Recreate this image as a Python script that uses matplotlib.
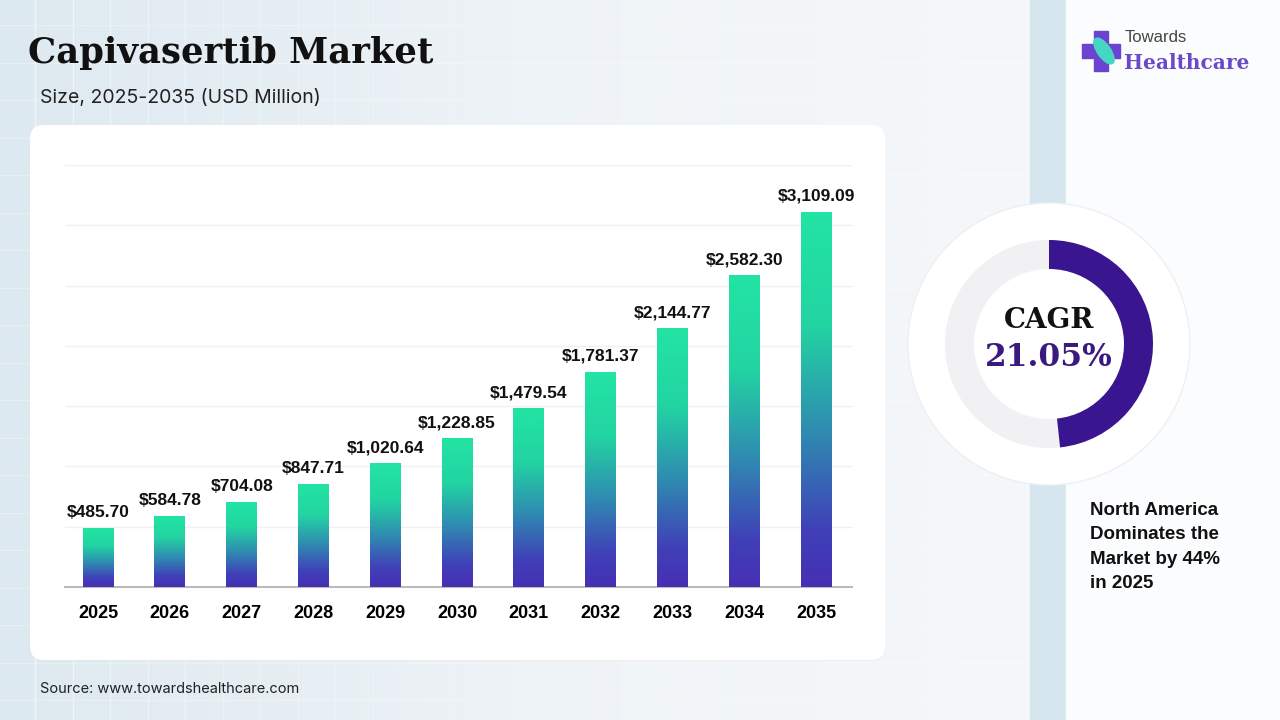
import numpy as np
import matplotlib
matplotlib.use("Agg")
import matplotlib.pyplot as plt
from matplotlib.colors import LinearSegmentedColormap
from matplotlib.patches import FancyBboxPatch, Rectangle, Circle, Wedge, Ellipse

# data
years = ["2025", "2026", "2027", "2028", "2029", "2030",
         "2031", "2032", "2033", "2034", "2035"]
values = [485.70, 584.78, 704.08, 847.71, 1020.64, 1228.85,
          1479.54, 1781.37, 2144.77, 2582.30, 3109.09]
cagr = 21.05
cagr_arc_share = 0.483   # part of the ring filled in the picture
title = "Capivasertib Market"
subtitle = "Size, 2025-2035 (USD Million)"
source = "Source: www.towardshealthcare.com"
note = "North America\nDominates the\nMarket by 44%\nin 2025"

W, H = 1280, 720
fig = plt.figure(figsize=(12.8, 7.2), dpi=100)

# background layer in pixel coords
bg = fig.add_axes([0, 0, 1, 1])
bg.set_xlim(0, W)
bg.set_ylim(H, 0)
bg.axis("off")

grad = np.linspace(0, 1, 256)[None, :]
bg_cmap = LinearSegmentedColormap.from_list("bg", ["#dde9f0", "#eef3f7", "#f5f8fa"])
bg.imshow(grad, extent=[0, 1030, H, 0], cmap=bg_cmap, aspect="auto", zorder=0)

# faint grid of the backdrop
for gx in np.arange(35, 1030, 37.5):
    a = max(0.0, 0.5 - gx / 1300)
    bg.plot([gx, gx], [0, H], color="white", lw=1, alpha=a, zorder=1)
for gy in np.arange(25, H, 37.5):
    bg.plot([0, 1030], [gy, gy], color="white", lw=1, alpha=0.3, zorder=1)

# strip and right panel
bg.add_patch(Rectangle((1030, 0), 36, H, color="#d6e6ee", zorder=2))
bg.add_patch(Rectangle((1066, 0), W - 1066, H, color="#fbfcfd", zorder=2))

# chart card
bg.add_patch(FancyBboxPatch((33, 129), 852, 532, boxstyle="round,pad=0,rounding_size=14",
                            fc="#e3e9ee", ec="none", alpha=0.6, zorder=3))
bg.add_patch(FancyBboxPatch((30, 125), 855, 535, boxstyle="round,pad=0,rounding_size=14",
                            fc="white", ec="none", zorder=4))

# donut
cx, cy = 1049, 344
bg.add_patch(Circle((cx, cy), 141, fc="white", ec="#edf0f3", lw=1, zorder=5))
bg.add_patch(Wedge((cx, cy), 104, 0, 360, width=29, fc="#f1f0f3", ec="none", zorder=6))
# y axis is inverted, so angles run clockwise on screen
span = cagr_arc_share * 360
bg.add_patch(Wedge((cx, cy), 104, -90, -90 + span, width=29, fc="#3a1590", ec="none", zorder=7))
bg.text(cx, 320, "CAGR", fontsize=20, fontweight="bold", family="DejaVu Serif",
        ha="center", va="center", color="#111111", zorder=8)
bg.text(cx, 357, f"{cagr:.2f}%", fontsize=22.5, fontweight="bold", family="DejaVu Serif",
        ha="center", va="center", color="#3a1a7e", zorder=8)

# logo
bg.add_patch(Rectangle((1082, 44), 38, 14, color="#6a44d0", zorder=5))
bg.add_patch(Rectangle((1094, 31), 14, 40, color="#6a44d0", zorder=5))
bg.add_patch(Ellipse((1104, 51), 13, 30, angle=-35, color="#45d6c4", zorder=6))
bg.text(1125, 38, "Towards", fontsize=12, family="Liberation Sans", color="#444444",
        ha="left", va="center", zorder=6)
bg.text(1124, 63, "Healthcare", fontsize=14.5, fontweight="bold", family="DejaVu Serif",
        color="#6a48c8", ha="left", va="center", zorder=6)

# texts
bg.text(28, 53, title, fontsize=25.5, fontweight="bold", family="DejaVu Serif",
        color="#111111", ha="left", va="center", zorder=6)
bg.text(40, 98, subtitle, fontsize=14, family="Inter", color="#222222",
        ha="left", va="center", zorder=6)
bg.text(40, 689, source, fontsize=10.5, family="Inter", color="#222222",
        ha="left", va="center", zorder=6)
bg.text(1090, 547, note, fontsize=13.5, fontweight="bold", family="Liberation Sans",
        color="#111111", ha="left", va="center", linespacing=1.55, zorder=6)

# bar chart
ax = fig.add_axes([65 / W, (H - 587) / H, (852 - 65) / W, (587 - 165) / H], zorder=5)
ax.patch.set_alpha(0)
x = np.arange(len(years))
bw = 0.43
bar_cmap = LinearSegmentedColormap.from_list(
    "bar", [(0, "#4630b4"), (0.15, "#4040b8"), (0.42, "#2f8db1"), (0.7, "#22d4a2"), (1, "#22e4a4")])
g = np.linspace(0, 1, 200)[:, None]
for xi, v in zip(x, values):
    ax.imshow(g, extent=[xi - bw / 2, xi + bw / 2, 0, v], origin="lower",
              cmap=bar_cmap, aspect="auto", zorder=3)
    ax.annotate(f"${v:,.2f}", (xi, v), xytext=(0, 6), textcoords="offset points",
                ha="center", va="bottom", fontsize=12.5, fontweight="bold",
                family="Liberation Sans", color="#111111")

ax.set_xlim(-0.46, 10.5)
ax.set_ylim(0, 3500)
ax.set_yticks(np.arange(500, 3501, 500))
ax.yaxis.grid(True, color="#f0f0f0", lw=1)
ax.set_axisbelow(True)
ax.tick_params(axis="y", left=False, labelleft=False)
ax.set_xticks(x)
ax.set_xticklabels(years, fontsize=13, fontweight="bold", family="Liberation Sans")
ax.tick_params(axis="x", length=0, pad=13)
for s in ["top", "right", "left"]:
    ax.spines[s].set_visible(False)
ax.spines["bottom"].set_color("#bbbbbb")
ax.spines["bottom"].set_linewidth(1.5)

fig.savefig("out.png", dpi=100)
